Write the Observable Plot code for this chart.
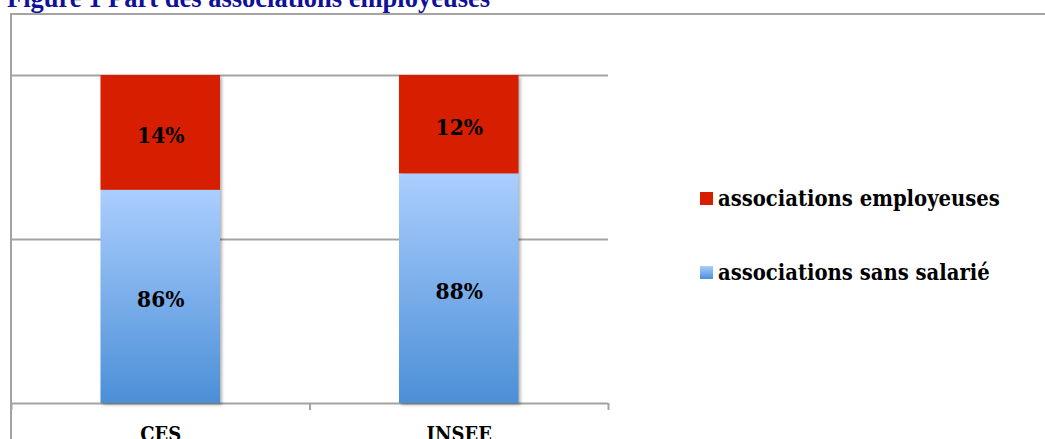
<!DOCTYPE html>
<html>
<head>
<meta charset="utf-8">
<script src="https://cdn.jsdelivr.net/npm/d3@7"></script>
<script src="https://cdn.jsdelivr.net/npm/@observablehq/plot@0.6"></script>
<style>
  body { margin: 0; background: #fff; }
  #wrap { position: relative; width: 1045px; height: 439px; overflow: hidden; }
  #title { position: absolute; left: 7px; top: -15px; font: bold 26.5px/26px "Liberation Serif", "Times New Roman", serif; color: #10109a; white-space: nowrap; }
  #frame { position: absolute; left: 10px; top: 13px; width: 1100px; height: 500px; border-top: 2px solid #a3a3a3; border-left: 2px solid #a3a3a3; }
  #chart { position: absolute; left: 0; top: 0; }
  #legend { position: absolute; left: 0; top: 0; }
  .cam { font-family: "DejaVu Serif Condensed", "DejaVu Serif", serif; font-stretch: condensed; font-weight: bold; }
  #chart text { font-family: "DejaVu Serif Condensed", "DejaVu Serif", serif; font-stretch: condensed; font-weight: bold; }
</style>
</head>
<body>
<svg width="0" height="0" style="position:absolute">
  <defs>
    <linearGradient id="blueGrad" x1="0" y1="0" x2="0" y2="1">
      <stop offset="0" stop-color="#abcefe"/>
      <stop offset="1" stop-color="#4b8fd7"/>
    </linearGradient>
  </defs>
</svg>
<div id="wrap">
  <div id="title">Figure 1 Part des associations employeuses</div>
  <div id="frame"></div>
  <div id="chart"></div>
  <svg id="legend" width="1045" height="439"></svg>
</div>
<script>
// ---- data ----
const categories = ["CES", "INSEE"];
const seriesNames = ["associations sans salarié", "associations employeuses"];
// segment heights as drawn in the chart (share of the 100% bar)
const sansSalarieHeight = [65, 70];
const employeusesHeight = [35, 30];
// printed data labels
const sansSalarieLabel = ["86%", "88%"];
const employeusesLabel = ["14%", "12%"];
const gridValues = [0, 50, 100];

const rows = [];
categories.forEach((c, i) => {
  rows.push({i, category: c, series: seriesNames[0], value: sansSalarieHeight[i], label: sansSalarieLabel[i]});
  rows.push({i, category: c, series: seriesNames[1], value: employeusesHeight[i], label: employeusesLabel[i]});
});

const colorRange = ["url(#blueGrad)", "#d71f00"];

const plot = Plot.plot({
  width: 1045,
  height: 439,
  marginLeft: 11,
  marginRight: 437,
  marginTop: 75,
  marginBottom: 36,
  x: {domain: [0, categories.length], label: null},
  y: {domain: [0, 100], axis: null, label: null},
  color: {domain: seriesNames, range: colorRange},
  style: {background: "transparent", overflow: "visible"},
  marks: [
    Plot.ruleY(gridValues, {stroke: "#a3a3a3", strokeWidth: 2}),
    Plot.rectY(rows, Plot.stackY({
      x1: "i", x2: d => d.i + 1, y: "value", fill: "series",
      insetLeft: 89.5, insetRight: 89.5
    })),
    Plot.text(rows, Plot.stackY({
      x: d => d.i + 0.5, y: "value", text: "label",
      fontSize: 22.5, fill: "#000", dy: 3
    })),
    Plot.axisX({
      ticks: d3.range(categories.length + 1), tickSize: 7, label: null,
      tickFormat: () => "", stroke: "#a3a3a3", strokeWidth: 2, strokeOpacity: 1
    }),
    Plot.axisX({
      ticks: categories.map((c, i) => i + 0.5), tickSize: 0, tickPadding: 23, label: null,
      tickFormat: v => categories[Math.floor(v)], fontSize: 20, fill: "#000"
    })
  ]
});
document.getElementById("chart").appendChild(plot);
d3.select(plot).selectAll('g[aria-label="rect"]')
  .style("filter", "drop-shadow(2px 2px 1.5px rgba(0,0,0,0.3))");

// ---- legend (top entry = top of stack) ----
const leg = d3.select("#legend");
const legendOrder = seriesNames.map((s, k) => k).reverse();
legendOrder.forEach((k, j) => {
  const g = leg.append("g").attr("transform", `translate(700, ${192 + j * 74})`);
  g.append("rect").attr("width", 13).attr("height", 13).attr("fill", colorRange[k]);
  g.append("text").attr("class", "cam").attr("x", 18).attr("y", 14)
    .attr("font-size", 21.8).attr("fill", "#000").text(seriesNames[k]);
});
</script>
</body>
</html>
